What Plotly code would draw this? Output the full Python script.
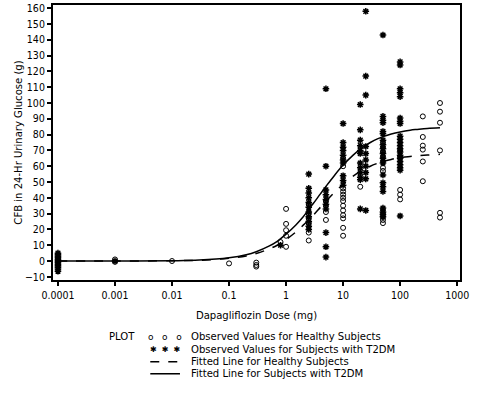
import plotly.graph_objects as go

# ---------------- data ----------------
healthy_dose = ([0.0001] * 4 + [0.001] * 2 + [0.01] + [0.1] + [0.3] * 3 + [0.8] +
                [1] * 5 + [2.5] * 6 + [5] * 4 + [10] * 13 + [20] + [50] * 12 +
                [100] * 5 + [250] * 6 + [500] * 6)
healthy_cfb = ([2, 0, -1, 1] + [1, -0.5] + [0] + [-1.5] + [-1, -2.5, -3.5] + [12] +
               [33, 23.5, 19.5, 16, 9] +
               [36, 30, 27, 24, 18, 13] +
               [38, 35, 31, 26] +
               [65, 60, 46, 44, 42, 40, 38, 35, 32, 29, 27, 21, 16] +
               [47] +
               [75, 72, 69, 66, 63, 59, 57, 32.5, 30, 28, 26, 24] +
               [70, 66, 45, 42, 39] +
               [91.5, 78.5, 73, 70.5, 63, 50.5] +
               [100, 94.5, 87.5, 70, 30.5, 27.5])

t2dm_dose = ([0.0001] * 12 + [0.001] + [0.8] + [2.5] * 11 + [5] * 10 + [10] * 10 +
             [20] * 12 + [25] * 10 + [50] * 20 + [100] * 21)
t2dm_cfb = ([5, 4, 3, 2, 1, 0, -1, -2, -3, -4, -5, -6.5] + [0] + [10] +
            [55, 46, 43, 40, 37, 34, 31, 28, 25, 22, 20] +
            [109, 60, 45, 42, 39, 36, 33, 18, 9, 2.5] +
            [87, 75, 72, 70, 67, 64, 62, 54, 51, 48] +
            [99, 83, 76.5, 73, 70, 68, 62, 59, 56, 53, 51.5, 33] +
            [158, 117, 105, 72.5, 68, 64, 60, 56, 52, 32] +
            [143, 91.5, 89, 87.5, 82, 80.5, 76.5, 73.5, 71, 68, 65, 62, 54.5,
             49.5, 47, 44, 33.5, 31, 29.5, 28] +
            [126, 124, 109, 106.5, 104, 90.5, 88.5, 87, 79, 77, 75, 73, 71, 69,
             67, 65, 63, 61, 59, 57.5, 28.5])

fit_dose = [0.0001, 0.001, 0.01, 0.03, 0.1, 0.2, 0.3, 0.5, 0.7, 1, 1.5, 2, 2.5, 3,
            4, 5, 7, 10, 15, 20, 25, 30, 40, 50, 70, 100, 150, 200, 300, 500]
fit_t2dm = [0, 0, 0.2, 0.6, 2.1, 4, 5.9, 9.4, 12.5, 17, 23, 28, 32.7, 36.4, 42.5,
            47.2, 54, 60.7, 67, 70.8, 73.3, 75, 77.3, 78.7, 80.4, 81.7, 82.8, 83.3,
            83.9, 84.3]
fit_healthy = [0, 0, 0.2, 0.5, 1.7, 3.2, 4.8, 7.6, 10, 13.6, 18.5, 22.7, 26.2, 29,
               34, 37.8, 43.3, 48.6, 53.7, 56.7, 58.6, 60, 61.8, 63, 64.3, 65.4,
               66.2, 66.7, 67.1, 67.5]

x_tickvals = [0.0001, 0.001, 0.01, 0.1, 1, 10, 100, 1000]
x_ticktext = ["0.0001", "0.001", "0.01", "0.1", "1", "10", "100", "1000"]
y_tickvals = list(range(-10, 161, 10))

legend_title = "PLOT"
legend_labels = ["Observed Values for Healthy Subjects",
                 "Observed Values for Subjects with T2DM",
                 "Fitted Line for Healthy Subjects",
                 "Fitted Line for Subjects with T2DM"]

FONT = "DejaVu Sans Condensed, Liberation Sans Narrow, sans-serif"
FS = 11.2
TFS = 10.5

fig = go.Figure()
fig.add_trace(go.Scatter(
    x=healthy_dose, y=healthy_cfb, mode="markers", name=legend_labels[0],
    marker=dict(symbol="circle-open", size=5, color="black", line=dict(width=1, color="black")),
))
fig.add_trace(go.Scatter(
    x=t2dm_dose, y=t2dm_cfb, mode="markers", name=legend_labels[1],
    marker=dict(symbol="asterisk-open", size=5.5, color="black", line=dict(width=1.5, color="black")),
))
fig.add_trace(go.Scatter(
    x=fit_dose, y=fit_healthy, mode="lines", line_shape="spline", name=legend_labels[2],
    line=dict(color="black", width=1.5, dash="dash"),
))
fig.add_trace(go.Scatter(
    x=fit_dose, y=fit_t2dm, mode="lines", line_shape="spline", name=legend_labels[3],
    line=dict(color="black", width=1.5),
))

# ---- hand-built legend (compact like the reference) ----
row_y = [-0.207, -0.251, -0.297, -0.341]
sym_x0, sym_x1 = 0.239, 0.312
text_x = 0.334
annotations = [dict(xref="paper", yref="paper", x=0.169, y=row_y[0], text=legend_title,
                    showarrow=False, xanchor="center", yanchor="middle",
                    font=dict(family=FONT, size=FS, color="black"))]
for yy, lab in zip(row_y, legend_labels):
    annotations.append(dict(xref="paper", yref="paper", x=text_x, y=yy, text=lab,
                            showarrow=False, xanchor="left", yanchor="middle",
                            font=dict(family=FONT, size=FS, color="black")))
annotations.append(dict(xref="paper", yref="paper", x=(sym_x0 + sym_x1) / 2, y=row_y[0],
                        text="o   o   o", showarrow=False, xanchor="center", yanchor="middle",
                        font=dict(family="DejaVu Sans", size=9, color="black")))
annotations.append(dict(xref="paper", yref="paper", x=(sym_x0 + sym_x1) / 2, y=row_y[1],
                        text="✱  ✱  ✱", showarrow=False, xanchor="center", yanchor="middle",
                        font=dict(family="DejaVu Sans", size=8, color="black")))
shapes = [
    dict(type="line", xref="paper", yref="paper", x0=sym_x0, x1=sym_x1, y0=row_y[2], y1=row_y[2],
         line=dict(color="black", width=1.5, dash="dash")),
    dict(type="line", xref="paper", yref="paper", x0=sym_x0, x1=sym_x1, y0=row_y[3], y1=row_y[3],
         line=dict(color="black", width=1.5)),
]

fig.update_layout(
    width=495, height=393,
    margin=dict(l=53, r=35, t=5, b=113),
    paper_bgcolor="white", plot_bgcolor="white",
    font=dict(family=FONT, size=FS, color="black"),
    showlegend=False,
    annotations=annotations, shapes=shapes,
)
fig.update_xaxes(
    type="log", range=[-4.087, 3.05], automargin=False,
    tickvals=x_tickvals, ticktext=x_ticktext,
    ticks="outside", ticklen=4, tickwidth=1.5, tickcolor="black",
    showline=True, linecolor="black", linewidth=2, mirror=True,
    showgrid=False, zeroline=False,
    title=dict(text="Dapagliflozin Dose (mg)", standoff=12, font=dict(size=FS)),
    tickfont=dict(size=TFS),
)
fig.update_yaxes(
    range=[-12, 162], tickvals=y_tickvals, automargin=False,
    ticks="outside", ticklen=4, tickwidth=1.5, tickcolor="black",
    showline=True, linecolor="black", linewidth=2, mirror=True,
    showgrid=False, zeroline=False,
    title=dict(text="CFB in 24-Hr Urinary Glucose (g)", standoff=0, font=dict(size=FS)),
    tickfont=dict(size=TFS),
)

fig.write_html("out.html", config={"displayModeBar": False},
               post_script="document.body.style.margin='0';")
